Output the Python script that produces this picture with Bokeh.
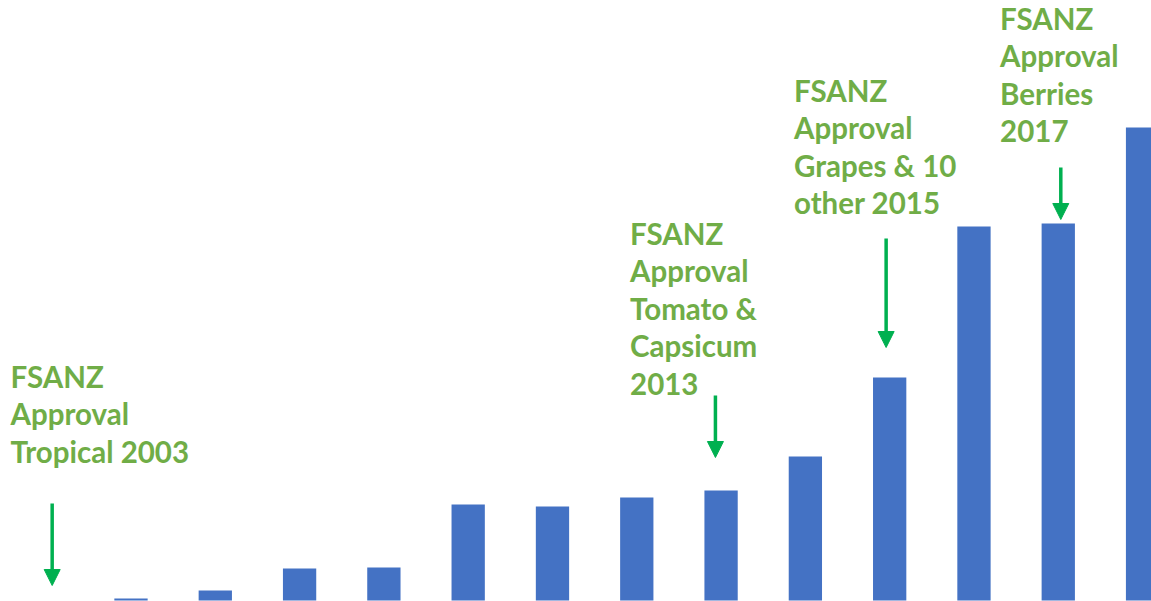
from bokeh.plotting import figure
from bokeh.models import ColumnDataSource, Range1d, Arrow, NormalHead
from bokeh.core.properties import value
from bokeh.embed import file_html
from bokeh.resources import INLINE

# Data (arbitrary units)
years = [2005, 2006, 2007, 2008, 2009, 2010, 2011, 2012, 2013, 2014, 2015, 2016, 2017, 2018]
values = [0, 2, 10, 32, 33, 96, 94, 103, 110, 144, 223, 374, 377, 473]

notes = [
    "FSANZ\nApproval\nTropical 2003",
    "FSANZ\nApproval\nTomato &\nCapsicum\n2013",
    "FSANZ\nApproval\nGrapes & 10\nother 2015",
    "FSANZ\nApproval\nBerries\n2017",
]
note_x = [2004.57, 2011.92, 2013.865, 2016.31]
note_y = [242, 385, 528, 600]

arrow_x = [2005.065, 2012.933, 2014.958, 2017.03]
arrow_y0 = [97, 205, 362, 433]
arrow_y1 = [15, 143, 253, 381]

BAR = "#4472C4"
TXT = "#70AD47"
ARR = "#00B050"

p = figure(width=1151, height=601, output_backend="svg", toolbar_location=None,
           x_range=Range1d(2004.452, 2018.106), y_range=Range1d(-1, 600),
           min_border=0, min_border_left=0, min_border_right=0,
           min_border_top=0, min_border_bottom=0)
p.axis.visible = False
p.grid.visible = False
p.outline_line_color = None
p.background_fill_color = "white"
p.border_fill_color = "white"

src = ColumnDataSource(dict(x=years, top=values))
p.vbar(x="x", top="top", bottom=0, width=0.395, source=src,
       fill_color=BAR, line_color=None)

tsrc = ColumnDataSource(dict(x=note_x, y=note_y, text=notes))
p.text(x="x", y="y", text="text", source=tsrc,
       text_font=value("Lato"), text_font_style="bold", text_font_size="29.5px",
       text_color=TXT, text_baseline="top", text_align="left",
       text_line_height=1.073)

for ax, a0, a1 in zip(arrow_x, arrow_y0, arrow_y1):
    p.add_layout(Arrow(end=NormalHead(size=16, fill_color=ARR, line_color=ARR, line_width=1),
                       x_start=ax, y_start=a0, x_end=ax, y_end=a1,
                       line_color=ARR, line_width=3.5))

open("out.html", "w").write(file_html(p, INLINE))
